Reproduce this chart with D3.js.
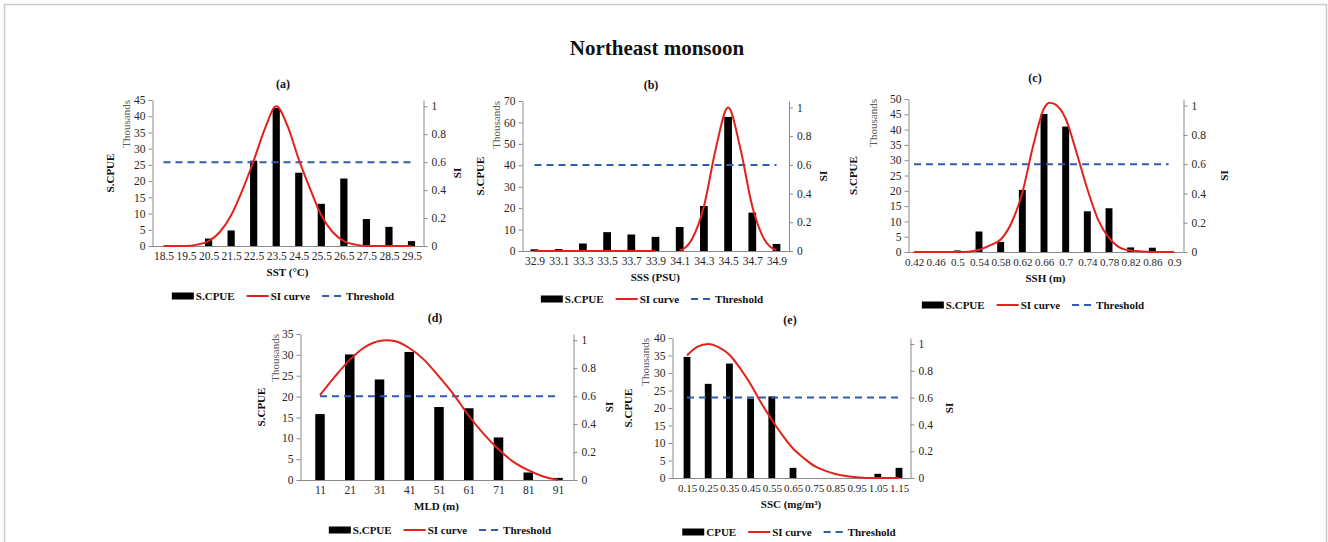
<!DOCTYPE html>
<html>
<head>
<meta charset="utf-8">
<script src="https://cdn.jsdelivr.net/npm/d3@7"></script>
<style>
  html, body { margin: 0; padding: 0; background: #fff; }
  svg, svg text { font-family: "Liberation Serif", "Times New Roman", serif !important; }
</style>
</head>
<body>
<svg id="chart" width="1328" height="542"></svg>
<script>
// ---------------- DATA ----------------
const mainTitle = "Northeast monsoon";

// (a) SST
const sstCats   = [18.5, 19.5, 20.5, 21.5, 22.5, 23.5, 24.5, 25.5, 26.5, 27.5, 28.5, 29.5];
const sstLabels = ["18.5","19.5","20.5","21.5","22.5","23.5","24.5","25.5","26.5","27.5","28.5","29.5"];
const sstCpue   = [0, 0, 2.3, 4.8, 26.3, 42.5, 22.6, 13.0, 20.8, 8.3, 5.9, 1.5];
const sstSiX    = [18.5, 19.5, 20, 20.5, 21, 21.5, 22, 22.5, 23, 23.5, 24, 24.5, 25, 25.5, 26, 26.5, 27, 27.5, 28.5, 29.5];
const sstSiY    = [0, 0, 0.01, 0.035, 0.1, 0.22, 0.4, 0.61, 0.84, 1.0, 0.86, 0.62, 0.41, 0.22, 0.1, 0.035, 0.01, 0, 0, 0];
const sstThr    = [18.5, 29.5];
const sstYTicks = [0, 5, 10, 15, 20, 25, 30, 35, 40, 45];

// (b) SSS
const sssCats   = [32.9, 33.1, 33.3, 33.5, 33.7, 33.9, 34.1, 34.3, 34.5, 34.7, 34.9];
const sssLabels = ["32.9","33.1","33.3","33.5","33.7","33.9","34.1","34.3","34.5","34.7","34.9"];
const sssCpue   = [0.8, 0.9, 3.5, 8.8, 7.7, 6.6, 11.2, 21.0, 62.6, 17.9, 3.3];
const sssSiX    = [32.9, 33.1, 33.3, 33.5, 33.7, 33.9, 34.0, 34.1, 34.2, 34.3, 34.4, 34.5, 34.6, 34.7, 34.8, 34.9];
const sssSiY    = [0, 0, 0, 0, 0, 0, null, 0, 0.08, 0.31, 0.72, 1.0, 0.72, 0.31, 0.08, 0.005];
const sssThr    = [32.9, 34.9];
const sssYTicks = [0, 10, 20, 30, 40, 50, 60, 70];

// (c) SSH
const sshCats   = [0.42, 0.46, 0.5, 0.54, 0.58, 0.62, 0.66, 0.7, 0.74, 0.78, 0.82, 0.86, 0.9];
const sshLabels = ["0.42","0.46","0.5","0.54","0.58","0.62","0.66","0.7","0.74","0.78","0.82","0.86","0.9"];
const sshCpue   = [0, 0, 0.5, 6.7, 3.3, 20.3, 45.1, 41.0, 13.3, 14.3, 1.5, 1.4, 0];
const sshSiX    = [0.42, 0.46, 0.5, 0.52, 0.54, 0.56, 0.58, 0.6, 0.62, 0.64, 0.66, 0.67, 0.68, 0.7, 0.72, 0.74, 0.76, 0.78, 0.8, 0.82, 0.86, 0.9];
const sshSiY    = [0, 0, 0, 0.002, 0.015, 0.045, 0.085, 0.2, 0.405, 0.725, 0.98, 1.02, 1.01, 0.91, 0.68, 0.43, 0.22, 0.096, 0.03, 0.01, 0, 0];
const sshThr    = [0.42, 0.89];
const sshYTicks = [0, 5, 10, 15, 20, 25, 30, 35, 40, 45, 50];

// (d) MLD
const mldCats   = [11, 21, 31, 41, 51, 61, 71, 81, 91];
const mldLabels = ["11","21","31","41","51","61","71","81","91"];
const mldCpue   = [15.8, 30.1, 24.1, 30.7, 17.5, 17.2, 10.2, 1.8, 0.5];
const mldSiX    = [11, 16, 21, 26, 31, 33.5, 36, 41, 46, 51, 56, 61, 66, 71, 76, 81, 86, 91];
const mldSiY    = [0.607, 0.74, 0.86, 0.95, 0.995, 1.0, 0.995, 0.945, 0.86, 0.74, 0.61, 0.46, 0.33, 0.22, 0.13, 0.07, 0.025, 0];
const mldThr    = [11, 91];
const mldYTicks = [0, 5, 10, 15, 20, 25, 30, 35];

// (e) SSC
const sscCats   = [0.15, 0.25, 0.35, 0.45, 0.55, 0.65, 0.75, 0.85, 0.95, 1.05, 1.15];
const sscLabels = ["0.15","0.25","0.35","0.45","0.55","0.65","0.75","0.85","0.95","1.05","1.15"];
const sscCpue   = [34.6, 26.9, 32.7, 22.7, 23.3, 2.9, 0, 0, 0, 1.2, 2.9];
const sscSiX    = [0.15, 0.2, 0.25, 0.3, 0.35, 0.4, 0.45, 0.5, 0.55, 0.6, 0.65, 0.7, 0.75, 0.8, 0.85, 0.9, 0.95, 1.0, 1.05, 1.15];
const sscSiY    = [0.915, 0.98, 1.0, 0.975, 0.92, 0.82, 0.7, 0.56, 0.435, 0.32, 0.22, 0.15, 0.09, 0.055, 0.03, 0.015, 0.005, 0, 0, 0];
const sscThr    = [0.15, 1.15];
const sscYTicks = [0, 5, 10, 15, 20, 25, 30, 35, 40];

const siTicks   = [0, 0.2, 0.4, 0.6, 0.8, 1];
const thresholdValue = 0.6;
const siTop = 1.045;

// ---------------- LAYOUT ----------------
const panels = [
  {tag:"(a)", cats:sstCats, labels:sstLabels, cpue:sstCpue, siX:sstSiX, siY:sstSiY, thr:sstThr, yTicks:sstYTicks,
   xTitle:"SST (°C)", barName:"S.CPUE", fs:11.5,
   L:152, R:423, T:100, B:246, cx0:163.5, cx1:411.5, tx:283, ty:88, scx:110, thx:126, six:457, lx:283, ly:296},
  {tag:"(b)", cats:sssCats, labels:sssLabels, cpue:sssCpue, siX:sssSiX, siY:sssSiY, thr:sssThr, yTicks:sssYTicks,
   xTitle:"SSS (PSU)", barName:"S.CPUE", fs:11.5,
   L:522, R:788.5, T:101, B:251, cx0:534.5, cx1:776.5, tx:651, ty:89, scx:480, thx:496, six:823, lx:652, ly:299},
  {tag:"(c)", cats:sshCats, labels:sshLabels, cpue:sshCpue, siX:sshSiX, siY:sshSiY, thr:sshThr, yTicks:sshYTicks,
   xTitle:"SSH (m)", barName:"S.CPUE", fs:11,
   L:908, R:1183, T:99, B:252, cx0:914, cx1:1174, tx:1035, ty:82, scx:853, thx:873, six:1224, lx:1033, ly:305},
  {tag:"(d)", cats:mldCats, labels:mldLabels, cpue:mldCpue, siX:mldSiX, siY:mldSiY, thr:mldThr, yTicks:mldYTicks,
   xTitle:"MLD (m)", barName:"S.CPUE", fs:11.5,
   L:300, R:573, T:334, B:480, cx0:320, cx1:558, tx:435, ty:322, scx:261, thx:275, six:609, lx:440, ly:530},
  {tag:"(e)", cats:sscCats, labels:sscLabels, cpue:sscCpue, siX:sscSiX, siY:sscSiY, thr:sscThr, yTicks:sscYTicks,
   xTitle:"SSC (mg/m³)", barName:"CPUE", fs:11,
   L:672, R:910, T:338, B:478, cx0:687, cx1:899, tx:790, ty:324, scx:628, thx:645, six:949, lx:789, ly:532}
];

const AXIS = "#8a8a8a", TXT = "#262626", RED = "#e3211c", BLUE = "#2f5cb0";
const FONT = "'Liberation Serif', 'Times New Roman', serif";

const svg = d3.select("#chart");
svg.append("rect").attr("width", 1328).attr("height", 542).attr("fill", "#fff");

// frame
svg.append("path").attr("d", "M4.5,542 V4.5 H1326.5 V542")
  .attr("fill", "none").attr("stroke", "#c9c9c9").attr("stroke-width", 1.5);

svg.append("text").attr("x", 657).attr("y", 55).attr("text-anchor", "middle")
  .style("font-family", FONT)
  .attr("font-size", 21).attr("font-weight", "bold").attr("fill", "#111")
  .text(mainTitle);

function drawPanel(p) {
  const g = svg.append("g");
  const n = p.cats.length;
  const x = d3.scaleLinear().domain([p.cats[0], p.cats[n - 1]]).range([p.cx0, p.cx1]);
  const yMax = p.yTicks[p.yTicks.length - 1];
  const y = d3.scaleLinear().domain([0, yMax]).range([p.B, p.T]);
  const ySI = d3.scaleLinear().domain([0, siTop]).range([p.B, p.T]);
  const step = (p.cx1 - p.cx0) / (n - 1);
  const bw = step * 0.32;

  // bars
  g.selectAll("rect.bar").data(p.cats.map((c, i) => [c, p.cpue[i]])).join("rect")
    .attr("x", d => x(d[0]) - bw / 2).attr("y", d => y(d[1]))
    .attr("width", bw).attr("height", d => p.B - y(d[1])).attr("fill", "#000");

  // baseline
  g.append("line").attr("x1", p.L).attr("x2", p.R).attr("y1", p.B + 0.5).attr("y2", p.B + 0.5)
    .attr("stroke", AXIS).attr("stroke-width", 1);

  // left axis
  const la = g.append("g").attr("transform", `translate(${p.L + 0.5},0)`)
    .call(d3.axisLeft(y).tickValues(p.yTicks).tickFormat(d => String(d)).tickSize(4).tickSizeOuter(0).tickPadding(3));
  // right axis
  const ra = g.append("g").attr("transform", `translate(${p.R + 0.5},0)`)
    .call(d3.axisRight(ySI).tickValues(siTicks).tickFormat(d => String(d)).tickSize(4).tickSizeOuter(0).tickPadding(4));
  // bottom labels
  const ba = g.append("g").attr("transform", `translate(0,${p.B})`)
    .call(d3.axisBottom(x).tickValues(p.cats).tickFormat((d, i) => p.labels[i]).tickSize(0).tickPadding(6));
  ba.select(".domain").remove();
  [la, ra].forEach(a => {
    a.select(".domain").attr("stroke", AXIS);
    a.selectAll(".tick line").attr("stroke", AXIS);
  });
  [la, ra].forEach(a => {
    a.attr("font-family", null).attr("font-size", null);
    a.selectAll("text").attr("font-size", 11.5).attr("fill", TXT).style("font-family", FONT);
  });
  ba.attr("font-family", null).attr("font-size", null);
  ba.selectAll("text").attr("font-size", p.fs).attr("fill", TXT).style("font-family", FONT);

  // threshold
  g.append("line").attr("x1", x(p.thr[0])).attr("x2", x(p.thr[1]))
    .attr("y1", ySI(thresholdValue)).attr("y2", ySI(thresholdValue))
    .attr("stroke", BLUE).attr("stroke-width", 2).attr("stroke-dasharray", "7,5");

  // SI curve
  const line = d3.line().defined(d => d[1] != null)
    .x(d => x(d[0])).y(d => ySI(d[1])).curve(d3.curveMonotoneX);
  g.append("path").datum(p.siX.map((v, i) => [v, p.siY[i]]))
    .attr("d", line).attr("fill", "none").attr("stroke", RED).attr("stroke-width", 2);

  // titles
  const txt = () => g.append("text").style("font-family", FONT).attr("fill", "#111");
  txt().attr("x", p.tx).attr("y", p.ty).attr("text-anchor", "middle")
    .attr("font-size", 12).attr("font-weight", "bold").text(p.tag);
  txt().attr("x", (p.L + p.R) / 2).attr("y", p.B + 30).attr("text-anchor", "middle")
    .attr("font-size", 11).attr("font-weight", "bold").text(p.xTitle);
  const midY = (p.T + p.B) / 2;
  txt().attr("transform", `translate(${p.scx},${midY}) rotate(-90)`)
    .attr("text-anchor", "middle").attr("dominant-baseline", "central")
    .attr("font-size", 11).attr("font-weight", "bold").text("S.CPUE");
  txt().attr("transform", `translate(${p.thx},${p.T}) rotate(-90)`)
    .attr("text-anchor", "end").attr("dominant-baseline", "central")
    .attr("font-size", 11).attr("fill", "#595959").text("Thousands");
  txt().attr("transform", `translate(${p.six},${midY}) rotate(-90)`)
    .attr("text-anchor", "middle").attr("dominant-baseline", "central")
    .attr("font-size", 11).attr("font-weight", "bold").text("SI");

  // legend
  const items = [
    {name: p.barName, type: "bar"},
    {name: "SI curve", type: "line"},
    {name: "Threshold", type: "dash"}
  ];
  const lg = g.append("g");
  let cur = 0;
  items.forEach((it) => {
    const ig = lg.append("g").attr("transform", `translate(${cur},0)`);
    const sw = 22;
    if (it.type === "bar") {
      ig.append("rect").attr("x", 0).attr("y", -3.5).attr("width", sw).attr("height", 7).attr("fill", "#000");
    } else if (it.type === "line") {
      ig.append("line").attr("x1", 0).attr("x2", sw).attr("y1", 0).attr("y2", 0).attr("stroke", RED).attr("stroke-width", 2);
    } else {
      ig.append("line").attr("x1", 0).attr("x2", sw).attr("y1", 0).attr("y2", 0).attr("stroke", BLUE)
        .attr("stroke-width", 2).attr("stroke-dasharray", "7,5");
    }
    const t = ig.append("text").style("font-family", FONT).attr("x", sw + 2).attr("y", 0)
      .attr("dominant-baseline", "central")
      .attr("font-size", 11).attr("font-weight", "bold").attr("fill", "#111").text(it.name);
    cur += sw + 2 + t.node().getComputedTextLength() + 12;
  });
  cur -= 12;
  lg.attr("transform", `translate(${p.lx - cur / 2},${p.ly})`);
}

panels.forEach(drawPanel);
</script>
</body>
</html>
